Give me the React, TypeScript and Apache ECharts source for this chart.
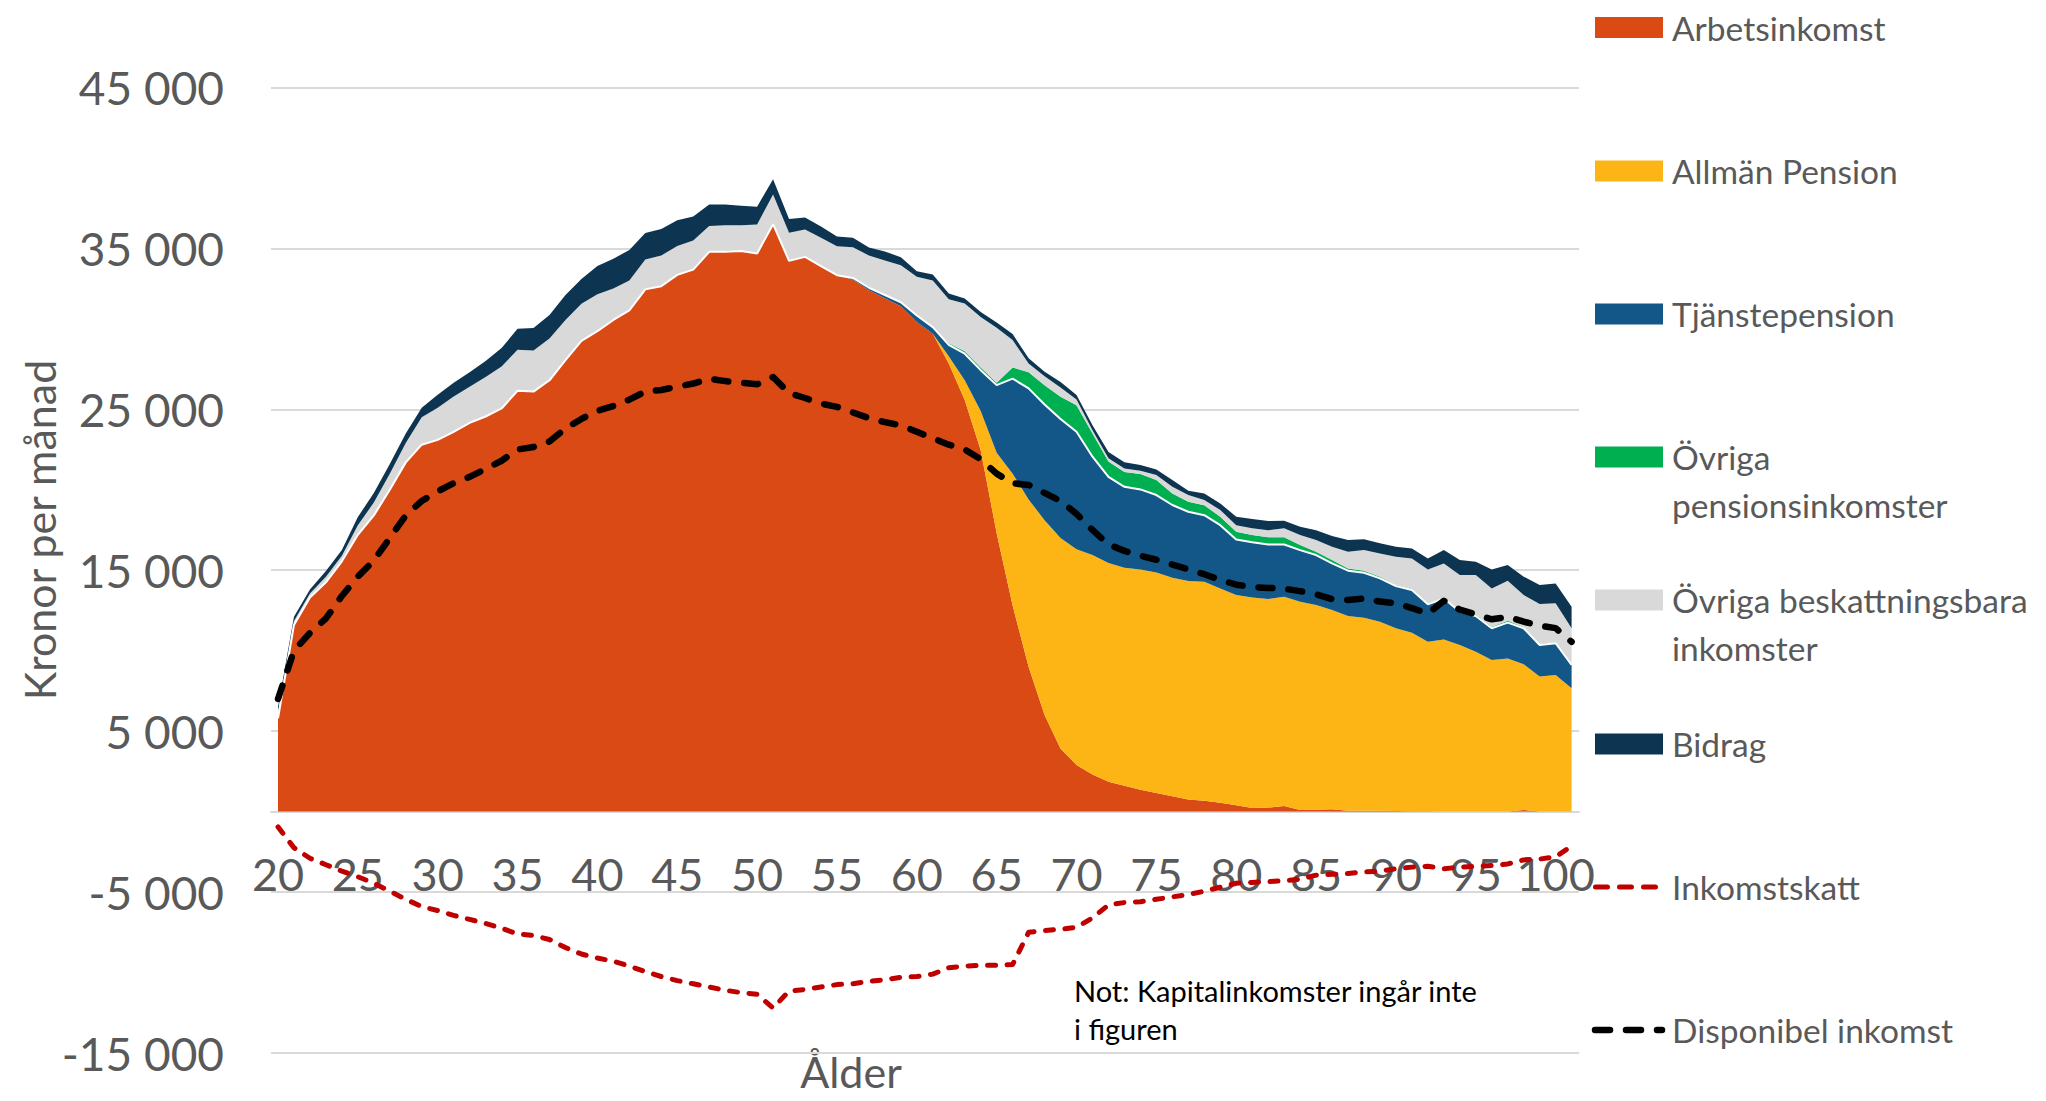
import React, { useEffect, useRef } from "react";
import * as echarts from "echarts";

// Ages (categories)
const ages = [
  "20","21","22","23","24","25","26","27","28","29",
  "30","31","32","33","34","35","36","37","38","39",
  "40","41","42","43","44","45","46","47","48","49",
  "50","51","52","53","54","55","56","57","58","59",
  "60","61","62","63","64","65","66","67","68","69",
  "70","71","72","73","74","75","76","77","78","79",
  "80","81","82","83","84","85","86","87","88","89",
  "90","91","92","93","94","95","96","97","98","99",
  "100","101",
];

const arbetsinkomst = [
  5800, 11600, 13300, 14250, 15550, 17200, 18400, 20000, 21700, 22800,
  23100, 23600, 24150, 24550, 25050, 26150, 26100, 26800, 28050, 29250,
  29850, 30550, 31150, 32450, 32650, 33350, 33680, 34780, 34780, 34840,
  34680, 36500, 34220, 34470, 33900, 33330, 33060, 32400, 31900, 31400,
  30430, 29700, 27850, 25570, 22460, 17300, 12800, 9000, 6000, 3900,
  2900, 2300, 1850, 1600, 1350, 1150, 950, 750, 680, 550,
  400, 220, 250, 350, 100, 120, 140, 50, 60, 50,
  30, 20, 20, 10, 10, 10, 10, 0, 100, 0,
  0, 0,
];

const allmanPension = [
  0, 0, 0, 0, 0, 0, 0, 0, 0, 0,
  0, 0, 0, 0, 0, 0, 0, 0, 0, 0,
  0, 0, 0, 0, 0, 0, 0, 0, 0, 0,
  0, 0, 0, 0, 0, 0, 0, 0, 0, 0,
  0, 0, 450, 1230, 2440, 5000, 8200, 10400, 12100, 13100,
  13400, 13640, 13600, 13550, 13700, 13710, 13580, 13580, 13600, 13320,
  13060, 13090, 12960, 13000, 12940, 12720, 12380, 12100, 11990, 11750,
  11360, 11100, 10540, 10690, 10340, 9930, 9410, 9520, 9050, 8390,
  8490, 7660,
];

const tjanstepension = [
  0, 0, 0, 0, 0, 0, 0, 0, 0, 0,
  0, 0, 0, 0, 0, 0, 0, 0, 0, 0,
  0, 0, 0, 0, 0, 0, 0, 0, 0, 0,
  0, 0, 0, 0, 0, 0, 100, 150, 200, 250,
  400, 400, 700, 1650, 2530, 4200, 5900, 6900, 7200, 7400,
  7300, 6110, 5350, 5030, 4970, 4810, 4520, 4300, 4140, 3930,
  3450, 3420, 3390, 3250, 3210, 3100, 2900, 2820, 2790, 2690,
  2630, 2650, 2320, 2550, 2070, 2210, 1970, 2220, 2240, 1960,
  1970, 1450,
];

const ovrigaPension = [
  0, 0, 0, 0, 0, 0, 0, 0, 0, 0,
  0, 0, 0, 0, 0, 0, 0, 0, 0, 0,
  0, 0, 0, 0, 0, 0, 0, 0, 0, 0,
  0, 0, 0, 0, 0, 0, 0, 0, 0, 0,
  0, 0, 100, 150, 170, 150, 700, 1000, 1200, 1370,
  1650, 1450, 950, 920, 950, 930, 720, 620, 620, 520,
  480, 450, 440, 440, 310, 210, 210, 140, 120, 100,
  80, 70, 60, 60, 60, 100, 100, 120, 80, 60,
  60, 40,
];

const ovrigaBeskattningsbara = [
  400, 250, 250, 350, 350, 600, 800, 1000, 1200, 1700,
  2000, 2200, 2250, 2450, 2600, 2550, 2550, 2600, 2500, 2300,
  2300, 1950, 1850, 1850, 1900, 1800, 1800, 1600, 1650, 1600,
  1800, 1850, 1750, 1700, 1750, 1800, 1900, 2000, 2150, 2300,
  2400, 2900, 2740, 2970, 3140, 3410, 1700, 550, 550, 580,
  360, 200, 200, 220, 210, 310, 410, 420, 320, 420,
  410, 420, 450, 560, 620, 720, 830, 1040, 1290, 1450,
  1740, 1890, 2110, 2110, 2220, 2450, 2380, 2490, 1990, 2490,
  2420, 2240,
];

const bidrag = [
  300, 250, 250, 350, 350, 500, 600, 600, 600, 600,
  800, 850, 900, 1000, 1150, 1300, 1400, 1450, 1550, 1550,
  1750, 1850, 1900, 1650, 1650, 1600, 1500, 1350, 1300, 1200,
  1100, 950, 850, 750, 700, 600, 600, 500, 550, 500,
  350, 370, 350, 310, 310, 330, 370, 320, 280, 350,
  270, 310, 400, 380, 350, 350, 420, 270, 410, 410,
  520, 580, 560, 470, 520, 620, 660, 720, 680, 630,
  620, 620, 680, 830, 930, 830, 1180, 970, 1140, 1180,
  1240, 1340,
];

const inkomstskatt = [
  -950, -2250, -2900, -3300, -3700, -4050, -4450, -4950, -5450, -5900,
  -6150, -6450, -6700, -6950, -7250, -7600, -7700, -7950, -8450, -8850,
  -9100, -9300, -9600, -9950, -10250, -10500, -10700, -10900, -11100, -11250,
  -11350, -12200, -11150, -11050, -10900, -10750, -10700, -10550, -10450, -10300,
  -10250, -10100, -9700, -9600, -9550, -9550, -9500, -7500, -7400, -7300,
  -7200, -6600, -5800, -5650, -5600, -5450, -5300, -5150, -4950, -4700,
  -4450, -4400, -4350, -4300, -4200, -3950, -3900, -3850, -3750, -3700,
  -3550, -3450, -3400, -3550, -3450, -3400, -3350, -3250, -3000, -2950,
  -2800, -2150,
];

const disponibelInkomst = [
  7000, 10000, 11100, 12000, 13400, 14600, 15600, 17000, 18400, 19300,
  19900, 20400, 20800, 21300, 21800, 22500, 22650, 23000, 23800, 24400,
  24900, 25200, 25600, 26100, 26200, 26400, 26600, 26900, 26750, 26650,
  26550, 27000, 26000, 25700, 25350, 25150, 24800, 24450, 24200, 24000,
  23600, 23200, 22800, 22500, 21900, 21000, 20400, 20300, 19800, 19300,
  18500, 17500, 16600, 16200, 15900, 15650, 15350, 15050, 14750, 14400,
  14100, 13950, 13900, 13850, 13700, 13500, 13200, 13150, 13250, 13050,
  12950, 12650, 12300, 13100, 12550, 12250, 11950, 12100, 11800, 11550,
  11400, 10550,
];

const C_ORANGE = "#DA4A15";
const C_YELLOW = "#FDB515";
const C_BLUE = "#135688";
const C_GREEN = "#00B050";
const C_GRAY = "#D9D9D9";
const C_NAVY = "#0D3450";
const C_RED = "#C00000";
const TEXT_GRAY = "#595959";
const FONT = "Lato, 'Open Sans', sans-serif";

function fmt(v: number): string {
  const s = Math.abs(v).toString().replace(/\B(?=(\d{3})+(?!\d))/g, " ");
  return (v < 0 ? "-" : "") + s;
}

export default function App() {
  const ref = useRef<HTMLDivElement>(null);

  useEffect(() => {
    document.body.style.margin = "0";
    if (!ref.current) return;
    const chart = echarts.init(ref.current, undefined, { renderer: "svg" });

    const GT = 87.4;
    const GH = 965.6;
    const Y_MIN = -15000;
    const Y_MAX = 45000;
    // distance from grid bottom up to the zero line
    const zeroOffset = (GH * (0 - Y_MIN)) / (Y_MAX - Y_MIN);

    const area = (name: string, data: number[], color: string, extra: any = {}) => ({
      name,
      type: "line",
      xAxisIndex: 1,
      yAxisIndex: 1,
      stack: "total",
      data,
      symbol: "none",
      showSymbol: false,
      lineStyle: { width: 0 },
      areaStyle: { color, opacity: 1, origin: 0 },
      itemStyle: { color },
      z: 2,
      ...extra,
    });

    const LFS = 33.5;
    const legendItems = [
      { label: "Arbetsinkomst", color: C_ORANGE, cy: 27.6 },
      { label: "Allmän Pension", color: C_YELLOW, cy: 171 },
      { label: "Tjänstepension", color: C_BLUE, cy: 314 },
      { label: "Övriga\npensionsinkomster", color: C_GREEN, cy: 457 },
      { label: "Övriga beskattningsbara\ninkomster", color: C_GRAY, cy: 600 },
      { label: "Bidrag", color: C_NAVY, cy: 744 },
    ];

    const graphic: any[] = [];
    legendItems.forEach((it) => {
      graphic.push({
        type: "rect",
        shape: { x: 1595, y: it.cy - 10.5, width: 68, height: 21 },
        style: { fill: it.color },
      });
      graphic.push({
        type: "text",
        x: 1672,
        y: it.cy - 24,
        style: {
          text: it.label,
          fontSize: LFS,
          fontFamily: FONT,
          fill: TEXT_GRAY,
          lineHeight: 48,
          verticalAlign: "top",
          align: "left",
        },
      });
    });
    graphic.push({
      type: "line",
      shape: { x1: 1595.5, y1: 887, x2: 1655.5, y2: 887 },
      style: { stroke: C_RED, lineWidth: 5, lineDash: [12, 12], lineCap: "round" },
    });
    graphic.push({
      type: "text",
      x: 1672,
      y: 887 - 24,
      style: { text: "Inkomstskatt", fontSize: LFS, fontFamily: FONT, fill: TEXT_GRAY, lineHeight: 48, verticalAlign: "top" },
    });
    graphic.push({
      type: "line",
      shape: { x1: 1595, y1: 1030, x2: 1662, y2: 1030 },
      style: { stroke: "#000", lineWidth: 6.5, lineDash: [15, 16], lineCap: "round" },
    });
    graphic.push({
      type: "text",
      x: 1672,
      y: 1030 - 24,
      style: { text: "Disponibel inkomst", fontSize: LFS, fontFamily: FONT, fill: TEXT_GRAY, lineHeight: 48, verticalAlign: "top" },
    });
    // axis titles
    graphic.push({
      type: "text",
      x: 39,
      y: 530,
      rotation: Math.PI / 2,
      style: { text: "Kronor per månad", fontSize: 43, fontFamily: FONT, fill: TEXT_GRAY, align: "center", verticalAlign: "middle" },
    });
    graphic.push({
      type: "text",
      x: 851,
      y: 1071,
      style: { text: "Ålder", fontSize: 43, lineHeight: 44, fontFamily: FONT, fill: TEXT_GRAY, align: "center", verticalAlign: "middle" },
    });
    graphic.push({
      type: "text",
      x: 1074,
      y: 971,
      style: {
        text: "Not: Kapitalinkomster ingår inte\ni figuren",
        fontSize: 29,
        fontFamily: FONT,
        fill: "#000",
        lineHeight: 38,
        verticalAlign: "top",
        align: "left",
      },
    });

    const option: any = {
      animation: false,
      backgroundColor: "#fff",
      textStyle: { fontFamily: FONT },
      grid: [
        { left: 271, top: GT, width: 1308, height: GH, outerBoundsMode: "none", containLabel: false },
        { left: 278, top: GT, width: 1293.6, height: GH, outerBoundsMode: "none", containLabel: false },
      ],
      xAxis: [
        {
          gridIndex: 0,
          type: "value",
          min: 0,
          max: 1,
          axisLine: { show: true, onZero: true, lineStyle: { color: "#D9D9D9", width: 2 } },
          axisTick: { show: false },
          axisLabel: { show: false },
          splitLine: { show: false },
        },
        {
          gridIndex: 1,
          type: "category",
          data: ages,
          boundaryGap: false,
          position: "bottom",
          offset: -zeroOffset,
          axisLine: { show: false, onZero: false },
          axisTick: { show: false },
          axisLabel: { interval: 4, fontSize: 45, color: TEXT_GRAY, margin: 40, fontFamily: FONT },
          splitLine: { show: false },
        },
      ],
      yAxis: [
        {
          gridIndex: 0,
          type: "value",
          min: Y_MIN,
          max: Y_MAX,
          interval: 10000,
          axisLine: { show: false },
          axisTick: { show: false },
          splitLine: { show: true, lineStyle: { color: "#D9D9D9", width: 2 } },
          axisLabel: { fontSize: 46, color: TEXT_GRAY, margin: 47, fontFamily: FONT, formatter: (v: number) => fmt(v) },
        },
        {
          gridIndex: 1,
          type: "value",
          min: Y_MIN,
          max: Y_MAX,
          interval: 10000,
          axisLine: { show: false },
          axisTick: { show: false },
          axisLabel: { show: false },
          splitLine: { show: false },
        },
      ],
      series: [
        area("Arbetsinkomst", arbetsinkomst, C_ORANGE),
        area("Allmän Pension", allmanPension, C_YELLOW),
        area("Tjänstepension", tjanstepension, C_BLUE, { lineStyle: { width: 2, color: "#fff" }, z: 3 }),
        area("Övriga pensionsinkomster", ovrigaPension, C_GREEN),
        area("Övriga beskattningsbara inkomster", ovrigaBeskattningsbara, C_GRAY),
        area("Bidrag", bidrag, C_NAVY),
        {
          name: "Inkomstskatt",
          type: "line",
          xAxisIndex: 1,
          yAxisIndex: 1,
          data: inkomstskatt,
          symbol: "none",
          showSymbol: false,
          z: 5,
          lineStyle: { color: C_RED, width: 5, type: [8, 11.5], cap: "round", join: "round" },
          itemStyle: { color: C_RED },
        },
        {
          name: "Disponibel inkomst",
          type: "line",
          xAxisIndex: 1,
          yAxisIndex: 1,
          data: disponibelInkomst,
          symbol: "none",
          showSymbol: false,
          z: 6,
          lineStyle: { color: "#000", width: 6.5, type: [14, 16], cap: "round", join: "round" },
          itemStyle: { color: "#000" },
        },
      ],
      graphic,
    };

    chart.setOption(option);
    return () => {
      chart.dispose();
    };
  }, []);

  return <div ref={ref} style={{ width: 2046, height: 1101 }} />;
}
